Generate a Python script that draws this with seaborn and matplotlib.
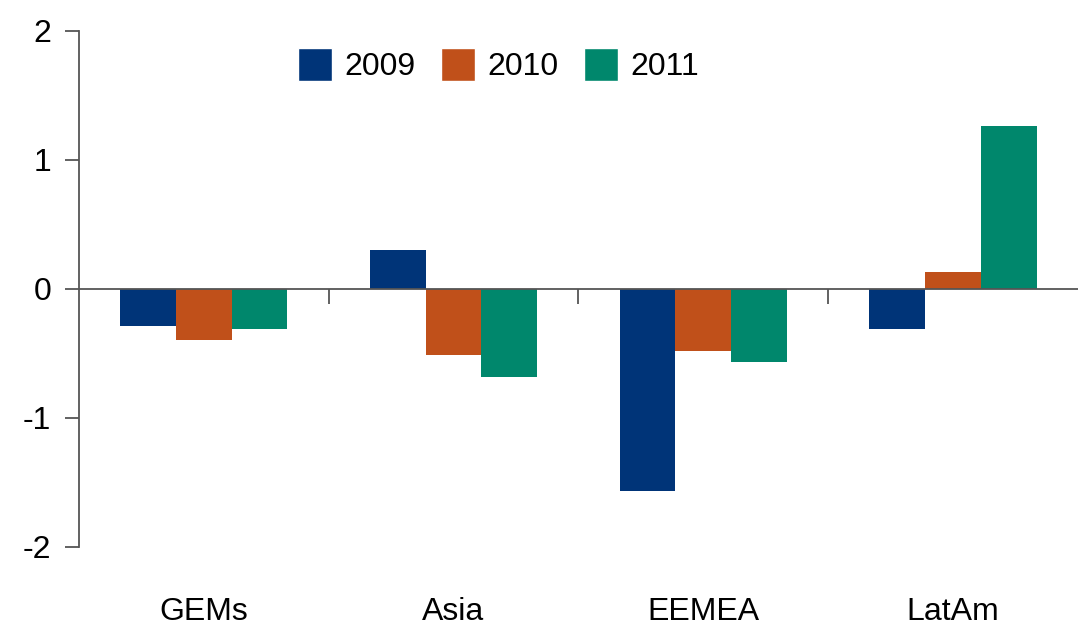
import pandas as pd
import matplotlib.pyplot as plt
import seaborn as sns
from matplotlib.patches import Patch

# Data
regions = ['GEMs', 'Asia', 'EEMEA', 'LatAm']
years = ['2009', '2010', '2011']
v2009 = [-0.29, 0.30, -1.57, -0.31]
v2010 = [-0.40, -0.51, -0.48, 0.13]
v2011 = [-0.31, -0.68, -0.57, 1.26]
colors = ['#003478', '#C0501A', '#00876C']

df = pd.DataFrame({'region': regions * 3,
                   'year': [y for y in years for _ in regions],
                   'value': v2009 + v2010 + v2011})

sns.set_style('white')
plt.rcParams['font.family'] = ['Liberation Sans', 'DejaVu Sans']
plt.rcParams['axes.unicode_minus'] = False
plt.rcParams['text.color'] = 'black'
plt.rcParams['xtick.color'] = 'black'
plt.rcParams['ytick.color'] = 'black'

fig = plt.figure(figsize=(10.8, 6.3), dpi=100)
ax = fig.add_axes([0.073, 0.132, 0.925, 0.819])

sns.barplot(data=df, x='region', y='value', hue='year', order=regions,
            hue_order=years, palette=colors, width=0.67, saturation=1,
            edgecolor='none', linewidth=0, ax=ax, legend=False)

ax.set_xlim(-0.5, 3.5)
ax.set_ylim(-2, 2)
ax.set_yticks([-2, -1, 0, 1, 2])
ax.set_xlabel('')
ax.set_ylabel('')

# zero line and category separators
ax.axhline(0, color='#555555', lw=1.3, zorder=1)
ax.vlines([0.5, 1.5, 2.5], -0.12, 0, color='#555555', lw=1.3)

for s in ['top', 'right', 'bottom']:
    ax.spines[s].set_visible(False)
ax.spines['left'].set_color('#555555')
ax.spines['left'].set_linewidth(1.3)

ax.tick_params(axis='y', direction='out', length=10, width=1.3, color='#555555',
               labelsize=23, labelcolor='black', pad=10, left=True)
ax.tick_params(axis='x', length=0, labelsize=23, labelcolor='black', pad=36)

handles = [Patch(facecolor=c, label=y) for c, y in zip(colors, years)]
fig.legend(handles=handles, loc='center', bbox_to_anchor=(0.462, 0.897), ncol=3,
           frameon=False, fontsize=23, handlelength=1.05, handleheight=1.2,
           handletextpad=0.4, columnspacing=0.8)

fig.savefig('out.png', dpi=100)
